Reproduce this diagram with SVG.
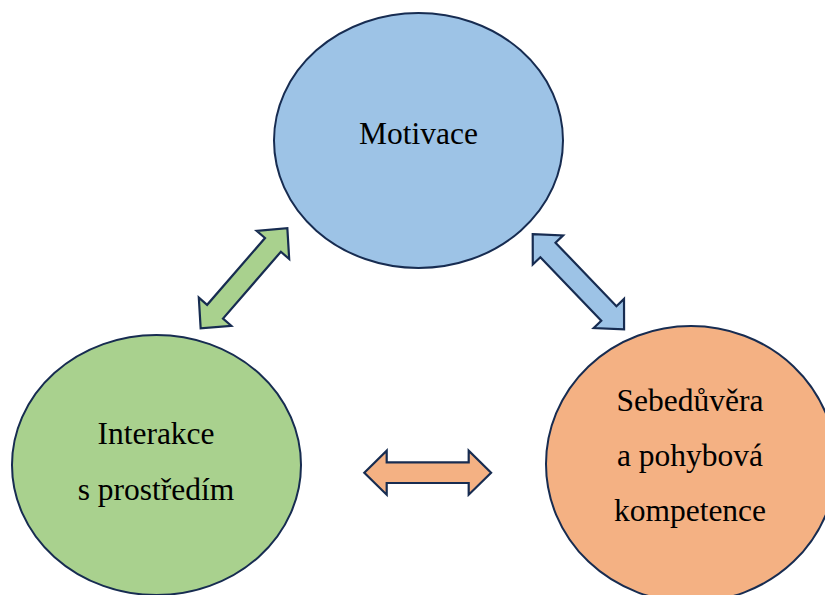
<svg xmlns="http://www.w3.org/2000/svg" width="825" height="595" viewBox="0 0 825 595">
<style>
.node{stroke:#172c51;stroke-width:2}
.lbl{font-family:"Liberation Serif","Times New Roman",serif;font-size:31.5px;fill:#000;text-anchor:middle}
.arr{stroke:#172c51;stroke-width:2.2;stroke-linejoin:miter}
</style>
<rect width="825" height="595" fill="#fff"/>
<g id="motivace">
<ellipse class="node" cx="418.5" cy="140.5" rx="144.5" ry="127.5" fill="#9dc3e6"/>
<text class="lbl" x="418.5" y="144">Motivace</text>
</g>
<g id="interakce">
<ellipse class="node" cx="156.5" cy="465" rx="144.5" ry="130" fill="#a9d18e"/>
<text class="lbl" x="156" y="444">Interakce</text>
<text class="lbl" x="156" y="500">s prostředím</text>
</g>
<g id="sebeduvera">
<ellipse class="node" cx="691" cy="464" rx="145" ry="138" fill="#f4b183" stroke="#111" stroke-width="2.5"/>
<text class="lbl" x="690" y="411">Sebedůvěra</text>
<text class="lbl" x="690" y="466">a pohybová</text>
<text class="lbl" x="690" y="521">kompetence</text>
</g>
<g id="connectors">
<polygon class="arr" fill="#a9d18e" transform="translate(244 278.3) rotate(-49.1)" points="-66.2,0 -44.2,-21.5 -44.2,-10.5 44.2,-10.5 44.2,-21.5 66.2,0 44.2,21.5 44.2,10.5 -44.2,10.5 -44.2,21.5"/>
<polygon class="arr" fill="#9dc3e6" transform="translate(578.4 281.7) rotate(46.2)" points="-66,0 -44,-21 -44,-10.5 44,-10.5 44,-21 66,0 44,21 44,10.5 -44,10.5 -44,21"/>
<polygon class="arr" fill="#f4b183" transform="translate(427.7 472.7)" points="-63.4,0 -41,-22 -41,-10.3 41,-10.3 41,-22 63.4,0 41,22 41,10.3 -41,10.3 -41,22"/>
</g>
</svg>
